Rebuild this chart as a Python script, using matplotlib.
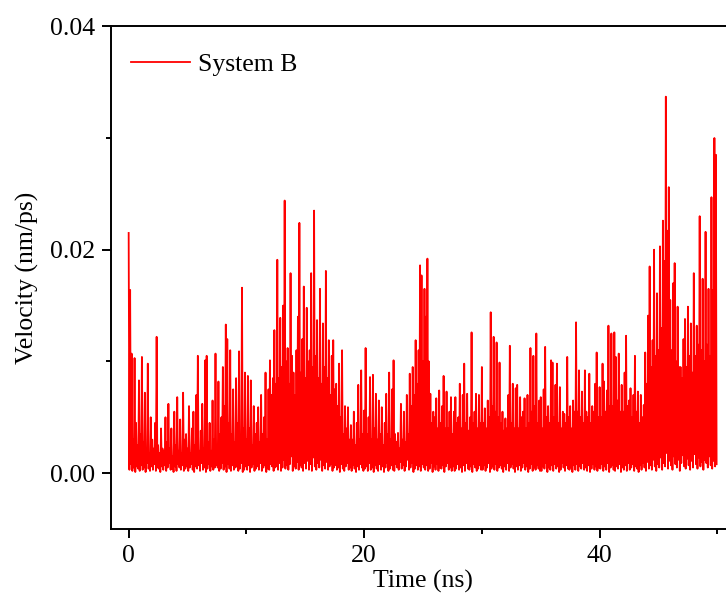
import numpy as np
from matplotlib import pyplot as plt

plt.rcParams['font.family'] = 'Liberation Serif'
plt.rcParams['font.size'] = 18.5

# sampled every 0.125 ns, values in units of 1e-4 nm/ps
peaks = [
    215, 164, 107, 30, 103, 45, 25, 83,  35, 104, 28, 72, 20, 98, 18, 50,
    30, 22, 45, 122, 25, 18, 40, 22,  20, 50, 28, 62, 22, 40, 15, 55,
    25, 68, 20, 48, 18, 72, 30, 35,  22, 60, 18, 40, 55, 25, 70, 105,
    20, 38, 62, 22, 101, 105, 28, 45,  20, 65, 30, 107, 25, 82, 35, 50,
    95, 60, 133, 120, 45, 110, 35, 75,  28, 85, 45, 109, 30, 166, 40, 90,
    30, 87, 40, 83, 25, 60, 35, 45,  59, 28, 70, 35, 50, 90, 30, 75,
    101, 70, 85, 128, 80, 191, 85, 139,  95, 150, 244, 100, 112, 80, 179, 105,
    90, 70, 110, 140, 224, 90, 120, 167,  85, 148, 100, 110, 179, 95, 235, 105,
    137, 85, 165, 80, 134, 95, 181, 85,  119, 70, 105, 119, 75, 80, 60, 98,
    50, 110, 35, 60, 40, 59, 30, 43,  30, 55, 25, 45, 79, 30, 92, 35,
    56, 112, 35, 50, 86, 30, 88, 40,  71, 30, 65, 35, 59, 25, 45, 71,
    35, 90, 30, 75, 101, 35, 28, 36,  22, 62, 30, 55, 28, 70, 35, 89,
    60, 95, 70, 119, 80, 110, 186, 177,  100, 165, 140, 192, 100, 71, 45, 55,
    50, 67, 40, 74, 45, 60, 87, 40,  73, 40, 55, 68, 35, 55, 68, 45,
    50, 80, 40, 70, 98, 45, 71, 38,  50, 126, 45, 55, 71, 40, 70, 45,
    95, 45, 58, 40, 65, 50, 144, 60,  122, 55, 117, 50, 99, 45, 55, 38,
    49, 40, 70, 114, 45, 80, 40, 76,  79, 40, 68, 50, 55, 67, 40, 70,
    45, 112, 55, 105, 60, 125, 45, 65,  68, 40, 75, 113, 50, 60, 45, 101,
    99, 50, 79, 98, 45, 77, 40, 55,  53, 45, 104, 50, 60, 40, 65, 55,
    135, 55, 92, 50, 73, 45, 92, 55,  50, 89, 45, 60, 55, 80, 108, 50,
    77, 50, 98, 82, 55, 74, 132, 60,  125, 60, 126, 104, 65, 107, 55, 79,
    55, 90, 123, 60, 65, 76, 50, 70,  105, 55, 73, 45, 70, 50, 61, 108,
    80, 141, 185, 95, 119, 200, 105, 161,  110, 203, 130, 226, 190, 337, 217, 256,
    155, 110, 170, 188, 100, 149, 95, 95,  85, 120, 138, 95, 149, 105, 134, 90,
    179, 105, 132, 115, 230, 110, 174, 100,  216, 115, 165, 105, 247, 164, 300, 285,
]

troughs = [
    3, 8, 2, 5, 1, 6, 4, 2, 7, 3, 5, 1, 9, 4, 2, 6, 3, 8, 2, 5,
    4, 1, 6, 3, 7, 2, 5, 9, 3, 4, 1, 6, 2, 8, 5, 3, 7, 2, 4, 6,
    2, 5, 8, 3, 1, 6, 4, 7, 2, 9, 3, 5, 1, 4, 8, 2, 6, 3, 5, 7,
    5, 2, 4, 9, 3, 6, 1, 8, 4, 2, 7, 3, 5, 6, 2, 4, 9, 1, 3, 6,
    3, 7, 1, 5, 8, 2, 4, 6, 3, 9, 2, 5, 7, 1, 4, 3, 8, 6, 2, 5,
    6, 3, 9, 2, 5, 12, 4, 7, 3, 8, 15, 2, 6, 4, 10, 3, 7, 5, 2, 9,
    4, 11, 3, 8, 2, 14, 6, 3, 9, 5, 12, 2, 7, 4, 10, 3, 6, 8, 2, 5,
    7, 3, 5, 1, 8, 4, 2, 6, 9, 3, 5, 2, 7, 4, 1, 6, 3, 8, 5, 2,
    4, 6, 2, 9, 3, 5, 1, 7, 4, 2, 8, 3, 6, 1, 5, 9, 2, 4, 7, 3,
    2, 8, 5, 3, 10, 4, 7, 2, 6, 12, 3, 5, 9, 1, 4, 7, 3, 6, 2, 8,
    5, 3, 7, 2, 4, 9, 1, 6, 3, 8, 2, 5, 4, 7, 1, 6, 9, 3, 5, 2,
    6, 2, 4, 8, 3, 5, 1, 7, 2, 9, 4, 3, 6, 1, 8, 5, 2, 4, 7, 3,
    3, 7, 2, 5, 9, 1, 4, 6, 3, 8, 2, 5, 7, 4, 1, 6, 3, 9, 2, 5,
    8, 4, 1, 6, 3, 7, 2, 5, 9, 3, 6, 1, 4, 8, 2, 5, 3, 7, 4, 2,
    2, 6, 4, 9, 1, 5, 3, 7, 2, 8, 4, 6, 1, 3, 9, 5, 2, 7, 4, 3,
    5, 1, 7, 3, 8, 2, 6, 4, 9, 3, 5, 2, 7, 1, 4, 8, 3, 6, 2, 5,
    4, 8, 2, 6, 3, 9, 1, 5, 7, 3, 2, 6, 4, 8, 1, 5, 3, 7, 2, 9,
    3, 5, 8, 2, 6, 4, 1, 7, 3, 9, 5, 2, 10, 4, 7, 3, 12, 6, 2, 8,
    5, 14, 3, 9, 6, 18, 4, 11, 7, 3, 15, 8, 5, 12, 2, 9, 16, 6, 4, 13,
    7, 3, 11, 5, 17, 8, 4, 14, 6, 10, 3, 12, 9, 5, 15, 7, 4, 11, 6, 8,
]

step = 0.125  # ns
n = len(peaks)
time = np.zeros(2 * n)
velocity = np.zeros(2 * n)
time[0::2] = np.arange(n) * step
time[1::2] = np.arange(n) * step + step / 2
velocity[0::2] = np.array(peaks) * 1e-4
velocity[1::2] = np.array(troughs) * 1e-4

fig = plt.figure(figsize=(7.26, 5.99), dpi=100)
ax = fig.add_axes([0.1529, 0.1169, 0.8595, 0.8392])

ax.plot(time, velocity, color='#ff0000', lw=1.3, label='System B')

ax.set_xlim(-1.5, 51.5)
ax.set_ylim(-0.005, 0.04)
ax.set_xticks([0, 20, 40])
ax.set_xticks([10, 30, 50], minor=True)
ax.set_yticks([0.0, 0.02, 0.04])
ax.set_yticks([0.01, 0.03], minor=True)
ax.set_yticklabels(['0.00', '0.02', '0.04'])

for s in ax.spines.values():
    s.set_linewidth(1.4)
ax.tick_params(which='major', direction='out', length=6.5, width=1.4, pad=5)
ax.tick_params(which='minor', direction='out', length=3.6, width=1.4)

ax.set_xlabel('Time (ns)', labelpad=2)
ax.set_ylabel('Velocity (nm/ps)', labelpad=8)

ax.legend(loc='center left', bbox_to_anchor=(0.032, 0.924), frameon=False,
          borderpad=0, borderaxespad=0, handlelength=2.3, handletextpad=0.3)

fig.savefig('out.png', dpi=100)
plt.close(fig)
